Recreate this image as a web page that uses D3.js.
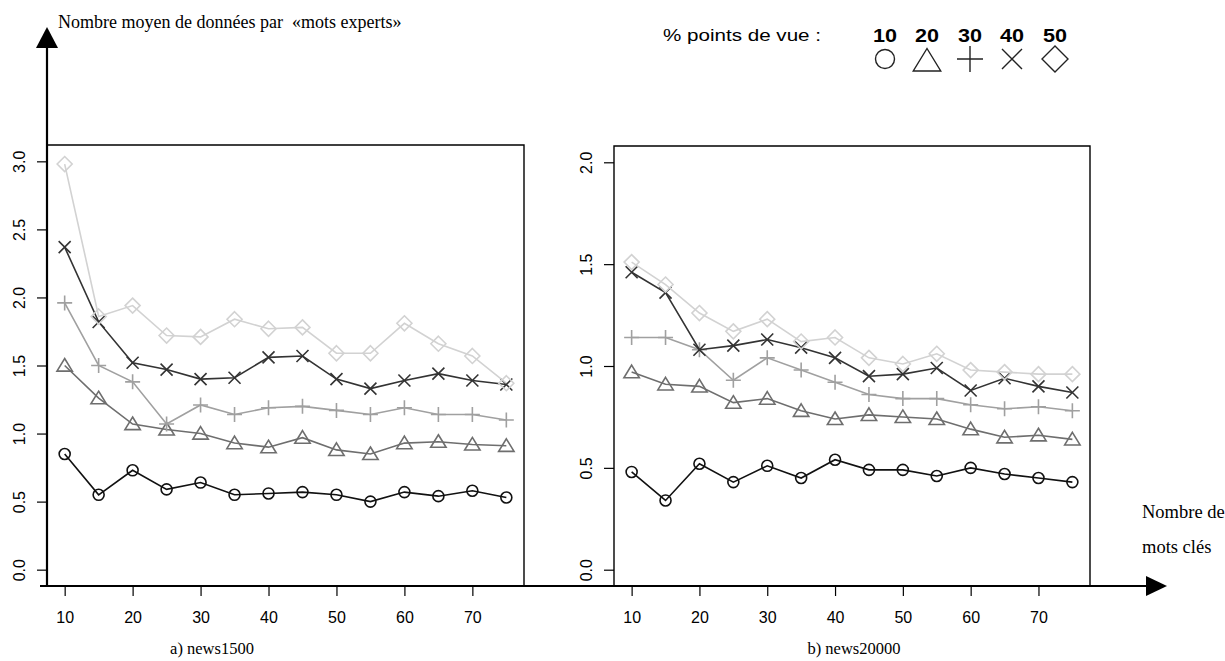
<!DOCTYPE html>
<html>
<head>
<meta charset="utf-8">
<script src="https://d3js.org/d3.v7.min.js"></script>
<style>
  body { margin: 0; background: #fff; }
  svg text { font-family: "Liberation Sans", Arial, sans-serif; fill: #000; }
  svg text.serif { font-family: "Liberation Serif", "Times New Roman", serif; }
</style>
</head>
<body>
<div id="chart"></div>
<script>
  // nombre de mots clés (axe x)
  var keywords = [10, 15, 20, 25, 30, 35, 40, 45, 50, 55, 60, 65, 70, 75];
  var viewPercents = ["10", "20", "30", "40", "50"];
  var xTicks = [10, 20, 30, 40, 50, 60, 70];
  var yTicksLeft = [0, 0.5, 1, 1.5, 2, 2.5, 3];
  var yTicksRight = [0, 0.5, 1, 1.5, 2];

  // a) news1500
  var news1500_10 = [0.85, 0.55, 0.73, 0.59, 0.64, 0.55, 0.56, 0.57, 0.55, 0.50, 0.57, 0.54, 0.58, 0.53];
  var news1500_20 = [1.50, 1.26, 1.07, 1.03, 1.00, 0.93, 0.90, 0.97, 0.88, 0.85, 0.93, 0.94, 0.92, 0.91];
  var news1500_30 = [1.96, 1.50, 1.38, 1.07, 1.21, 1.14, 1.19, 1.20, 1.17, 1.14, 1.19, 1.14, 1.14, 1.10];
  var news1500_40 = [2.37, 1.82, 1.52, 1.47, 1.40, 1.41, 1.56, 1.57, 1.40, 1.33, 1.39, 1.44, 1.39, 1.36];
  var news1500_50 = [2.98, 1.86, 1.94, 1.72, 1.71, 1.84, 1.77, 1.78, 1.59, 1.59, 1.81, 1.66, 1.57, 1.37];

  // b) news20000
  var news20000_10 = [0.48, 0.34, 0.52, 0.43, 0.51, 0.45, 0.54, 0.49, 0.49, 0.46, 0.50, 0.47, 0.45, 0.43];
  var news20000_20 = [0.97, 0.91, 0.90, 0.82, 0.84, 0.78, 0.74, 0.76, 0.75, 0.74, 0.69, 0.65, 0.66, 0.64];
  var news20000_30 = [1.14, 1.14, 1.08, 0.93, 1.04, 0.98, 0.92, 0.86, 0.84, 0.84, 0.81, 0.79, 0.80, 0.78];
  var news20000_40 = [1.46, 1.36, 1.08, 1.10, 1.13, 1.09, 1.04, 0.95, 0.96, 0.99, 0.88, 0.94, 0.90, 0.87];
  var news20000_50 = [1.51, 1.40, 1.26, 1.17, 1.23, 1.12, 1.14, 1.04, 1.01, 1.06, 0.98, 0.97, 0.96, 0.96];

  var shapes = ["circle", "triangle", "plus", "cross", "diamond"];
  var colors = ["#111111", "#6e6e6e", "#a0a0a0", "#333333", "#d2d2d2"];

  var width = 1225, height = 661;
  var axisY = 586;

  var svg = d3.select("#chart").append("svg")
    .attr("width", width)
    .attr("height", height);

  // half size of each marker
  function shapePath(shape, s) {
    switch (shape) {
      case "circle":
        var p = d3.path(); p.arc(0, 0, s, 0, 2 * Math.PI); return p.toString();
      case "triangle":
        return "M0," + (-s) + "L" + (s * 1.1) + "," + (s * 0.8) + "L" + (-s * 1.1) + "," + (s * 0.8) + "Z";
      case "plus":
        return "M" + (-s) + ",0H" + s + "M0," + (-s) + "V" + s;
      case "cross":
        return "M" + (-s) + "," + (-s) + "L" + s + "," + s + "M" + s + "," + (-s) + "L" + (-s) + "," + s;
      case "diamond":
        return "M0," + (-s) + "L" + s + ",0L0," + s + "L" + (-s) + ",0Z";
    }
  }
  var plotSizes = { circle: 5.5, triangle: 7, plus: 7.5, cross: 6, diamond: 7.5 };
  var legendSizes = { circle: 9.5, triangle: 12.5, plus: 13, cross: 10, diamond: 13 };

  function drawPanel(left, right, top, yMax, yTicks, series) {
    var x = d3.scaleLinear().domain([10 - 65 * 0.04, 75 + 65 * 0.04]).range([left, right]);
    var y = d3.scaleLinear().domain([-yMax * 0.04, yMax * 1.04]).range([axisY, top]);

    // frame (top + right + left)
    svg.append("path")
      .attr("d", "M" + left + "," + axisY + "V" + top + "H" + right + "V" + axisY)
      .attr("fill", "none")
      .attr("stroke", "#000")
      .attr("stroke-width", 1.4);

    var gy = svg.append("g")
      .attr("transform", "translate(" + left + ",0)")
      .call(d3.axisLeft(y).tickValues(yTicks).tickSize(10).tickFormat(d3.format(".1f")));
    gy.select(".domain").remove();
    gy.selectAll("line").attr("stroke", "#000").attr("stroke-width", 1.2);
    gy.selectAll("text")
      .attr("x", 0).attr("y", -22).attr("dy", null)
      .attr("text-anchor", "middle")
      .attr("transform", "rotate(-90)")
      .style("font-size", "16px");

    var gx = svg.append("g")
      .attr("transform", "translate(0," + axisY + ")")
      .call(d3.axisBottom(x).tickValues(xTicks).tickSize(10).tickPadding(16));
    gx.select(".domain").remove();
    gx.selectAll("line").attr("stroke", "#000").attr("stroke-width", 1.2);
    gx.selectAll("text").style("font-size", "16px");

    var line = d3.line().x(function (d) { return x(d.k); }).y(function (d) { return y(d.v); });

    series.forEach(function (vals, i) {
      var pts = keywords.map(function (k, j) { return { k: k, v: vals[j] }; });
      var g = svg.append("g");
      g.append("path")
        .attr("d", line(pts))
        .attr("fill", "none")
        .attr("stroke", colors[i])
        .attr("stroke-width", 1.6);
      g.selectAll("path.m").data(pts).enter().append("path")
        .attr("class", "m")
        .attr("transform", function (d) { return "translate(" + x(d.k) + "," + y(d.v) + ")"; })
        .attr("d", shapePath(shapes[i], plotSizes[shapes[i]]))
        .attr("fill", "none")
        .attr("stroke", colors[i])
        .attr("stroke-width", 1.6);
    });
  }

  drawPanel(47, 524, 145, 3, yTicksLeft,
    [news1500_10, news1500_20, news1500_30, news1500_40, news1500_50]);
  drawPanel(614, 1090, 146, 2, yTicksRight,
    [news20000_10, news20000_20, news20000_30, news20000_40, news20000_50]);

  // long axes with arrows
  svg.append("line")
    .attr("x1", 47).attr("y1", axisY + 1).attr("x2", 47).attr("y2", 45)
    .attr("stroke", "#000").attr("stroke-width", 2.2);
  svg.append("path")
    .attr("d", "M47,27L58,48L36,48Z")
    .attr("fill", "#000");
  svg.append("line")
    .attr("x1", 40).attr("y1", axisY).attr("x2", 1148).attr("y2", axisY)
    .attr("stroke", "#000").attr("stroke-width", 2.2);
  svg.append("path")
    .attr("d", "M1167," + axisY + "L1146," + (axisY - 10) + "L1146," + (axisY + 10) + "Z")
    .attr("fill", "#000");

  // texts
  svg.append("text").attr("class", "serif")
    .attr("x", 58).attr("y", 28)
    .style("font-size", "18px")
    .style("white-space", "pre")
    .text("Nombre moyen de données par  «mots experts»");
  svg.append("text").attr("class", "serif")
    .attr("x", 1142).attr("y", 518)
    .style("font-size", "18.5px")
    .text("Nombre de");
  svg.append("text").attr("class", "serif")
    .attr("x", 1142).attr("y", 553)
    .style("font-size", "18.5px")
    .text("mots clés");
  svg.append("text").attr("class", "serif")
    .attr("x", 212).attr("y", 654).attr("text-anchor", "middle")
    .style("font-size", "16.5px")
    .text("a) news1500");
  svg.append("text").attr("class", "serif")
    .attr("x", 854).attr("y", 654).attr("text-anchor", "middle")
    .style("font-size", "16.5px")
    .text("b) news20000");

  // legend
  svg.append("text")
    .attr("x", 663).attr("y", 41)
    .attr("textLength", 158).attr("lengthAdjust", "spacingAndGlyphs")
    .style("font-size", "17px")
    .text("% points de vue :");
  var legendX = [885, 927, 970, 1012, 1055];
  svg.selectAll("text.lg").data(viewPercents).enter().append("text")
    .attr("class", "lg")
    .attr("x", function (d, i) { return legendX[i]; })
    .attr("y", 42)
    .attr("text-anchor", "middle")
    .attr("textLength", 24).attr("lengthAdjust", "spacingAndGlyphs")
    .style("font-size", "17.5px")
    .style("font-weight", "bold")
    .text(function (d) { return d; });
  svg.selectAll("path.lgm").data(shapes).enter().append("path")
    .attr("class", "lgm")
    .attr("transform", function (d, i) { return "translate(" + legendX[i] + "," + (d === "triangle" ? 61 : 59) + ")"; })
    .attr("d", function (d) { return shapePath(d, legendSizes[d]); })
    .attr("fill", "none")
    .attr("stroke", "#222")
    .attr("stroke-width", 1.4);
</script>
</body>
</html>
